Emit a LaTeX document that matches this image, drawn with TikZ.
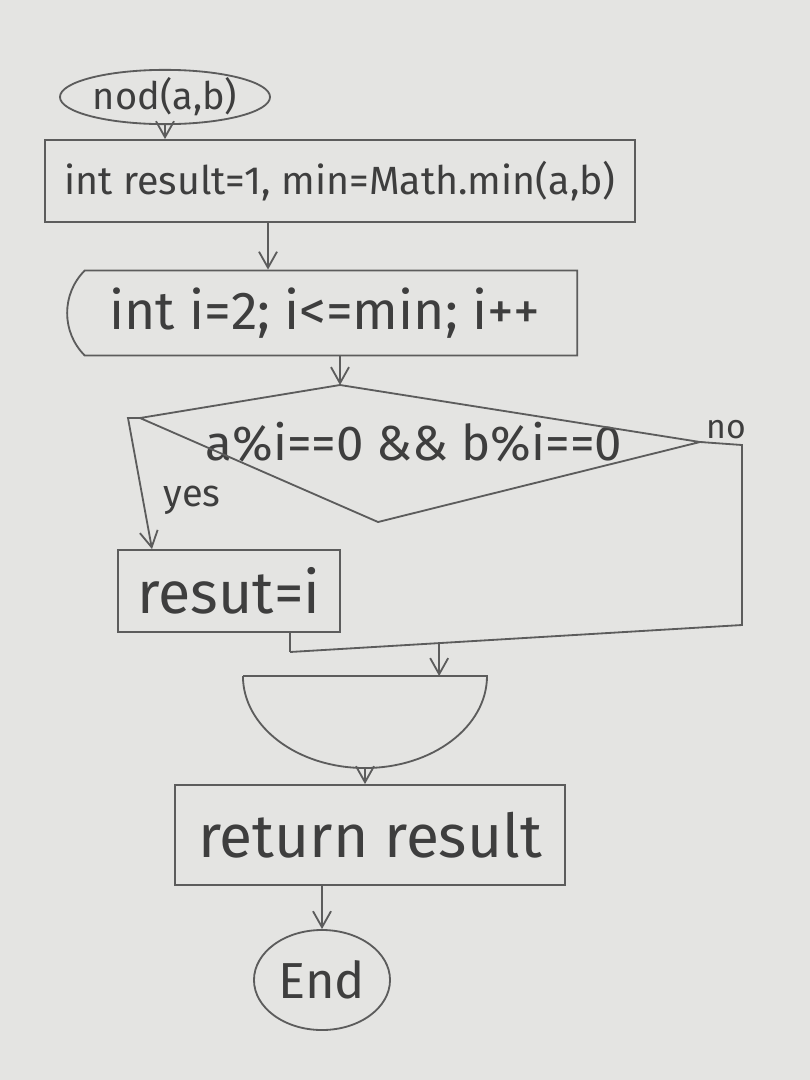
\documentclass[tikz,border=0pt]{standalone}
\usepackage{fontspec}
\setmainfont{Fira Sans}
\usetikzlibrary{shapes.geometric,shapes.misc,arrows.meta,calc}
\definecolor{paper}{HTML}{E4E4E2}
\definecolor{pencil}{HTML}{5C5C5C}
\definecolor{ink}{HTML}{3E3E3E}
\begin{document}
\begin{tikzpicture}[x=0.025cm,y=-0.025cm,
  line/.style={draw=pencil,line width=1.3pt},
  arr/.style={line,-{Straight Barb[length=4mm,width=4.5mm]}},
  box/.style={rectangle,draw=pencil,line width=1.3pt,text=ink,inner sep=0pt},
  term/.style={ellipse,draw=pencil,line width=1.3pt,text=ink,inner sep=0pt},
  lbl/.style={text=ink,inner sep=0pt}]
\fill[paper] (0,0) rectangle (810,1080);
\useasboundingbox (0,0) rectangle (810,1080);
% nodes
\node[term,minimum width=5.25cm,minimum height=1.1cm,font=\fontsize{27}{29}\selectfont] (st) at (165,97) {nod(a,b)};
\node[box,minimum width=14.75cm,minimum height=2.05cm,font=\fontsize{28}{30}\selectfont] (init) at (340,181) {int result=1, min=Math.min(a,b)};
\node[rounded rectangle,rounded rectangle right arc=none,rounded rectangle arc length=90,draw=pencil,line width=1.3pt,text=ink,inner sep=0pt,minimum width=12.75cm,minimum height=2.125cm,font=\fontsize{38}{40}\selectfont] (loop) at (325,313) {int i=2; i<=min; i++};
\node[lbl,font=\fontsize{35}{37}\selectfont] (cond) at (414,442) {a\%i==0 \&\& b\%i==0};
\coordinate (cT) at (340,385);
\coordinate (cR) at (700,442);
\coordinate (cB) at (378,522);
\coordinate (cL) at (140,418);
\draw[line] (cT) -- (cR) -- (cB) -- (cL) -- cycle;
\node[box,minimum width=5.55cm,minimum height=2.05cm,font=\fontsize{42}{44}\selectfont] (res) at (229,591) {resut=i};
\node[lbl,font=\fontsize{27}{29}\selectfont] (yes) at (192,500) {yes};
\node[lbl,font=\fontsize{24}{26}\selectfont] (no) at (726,430) {no};
\node[box,minimum width=9.75cm,minimum height=2.5cm,font=\fontsize{43}{45}\selectfont] (ret) at (370,835) {return result};
\node[term,minimum width=3.4cm,minimum height=2.5cm,font=\fontsize{36}{38}\selectfont] (fin) at (322,980) {End};
% loop end
\coordinate (leL) at (243,676);
\coordinate (leR) at (487,676);
\coordinate (leB) at (365,768);
\draw[line] (leL) -- (leR) arc[start angle=0,end angle=-180,x radius=3.05cm,y radius=2.3cm];
% connectors
\draw[arr] (st.south) -- (st.south |- init.north);
\coordinate (il) at (268,0);
\draw[arr] (init.south -| il) -- (loop.north -| il);
\draw[arr] (loop.south -| cT) -- (cT);
\coordinate (yc) at (128,418);
\coordinate (ye) at (152,0);
\draw[arr] (cL) -- (yc) -- (res.north -| ye);
\coordinate (n1) at (742,445);
\coordinate (n2) at (742,625);
\coordinate (mj) at (290,652);
\draw[line] (cR) -- (n1) -- (n2) -- (mj);
\draw[line] (res.south -| mj) -- (mj);
\coordinate (ma) at ($(mj)!0.33!(n2)$);
\draw[arr] (ma) -- (ma |- leL);
\draw[arr] (leB) -- (leB |- ret.north);
\draw[arr] (ret.south -| fin.north) -- (fin.north);
\end{tikzpicture}
\end{document}
